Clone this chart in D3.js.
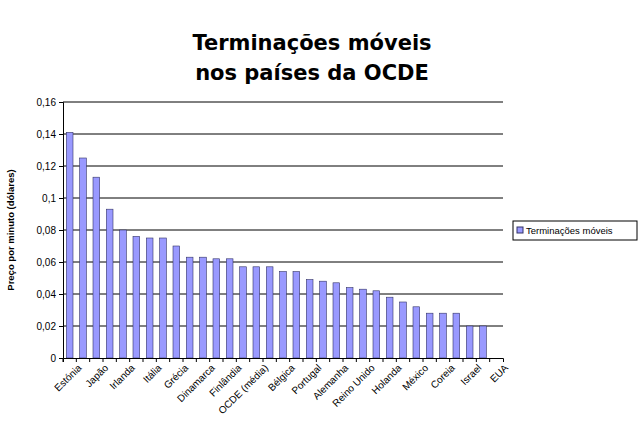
<!DOCTYPE html><html><head><meta charset="utf-8"><script src="https://cdn.jsdelivr.net/npm/d3@7"></script>
<style>body{margin:0;background:#fff}</style></head><body><svg id="c" width="640" height="426"></svg>
<script>
const categories=["Estónia","Eslováquia","Japão","Suíça","Irlanda","Hungria","Itália","Polónia","Grécia","Áustria","Dinamarca","Noruega","Finlândia","Rep. Checa","OCDE (média)","Espanha","Bélgica","Luxemburgo","Portugal","Islândia","Alemanha","França","Reino Unido","Suécia","Holanda","Turquia","México","Canadá","Coreia","Austrália","Israel","Nova Zelândia","EUA"];
const values=[0.141,0.125,0.113,0.093,0.080,0.076,0.075,0.075,0.070,0.063,0.063,0.062,0.062,0.057,0.057,0.057,0.054,0.054,0.049,0.048,0.047,0.044,0.043,0.042,0.038,0.035,0.032,0.028,0.028,0.028,0.020,0.020,0];
const yTicks=[0,0.02,0.04,0.06,0.08,0.1,0.12,0.14,0.16];
const seriesName="Terminações móveis";
const svg=d3.select("#c"),L=63,R=503,T=102,B=358;
const x=d3.scaleBand().domain(categories).range([L,R]);
const y=d3.scaleLinear().domain([0,0.16]).range([B,T]);
const fmt=d=>String(d).replace(".",",");
const F="Liberation Sans, Arial";
svg.append("text").attr("x",312).attr("y",50).attr("text-anchor","middle").attr("font-family","DejaVu Sans").attr("font-weight","bold").attr("font-size",21).text("Terminações móveis");
svg.append("text").attr("x",312).attr("y",80).attr("text-anchor","middle").attr("font-family","DejaVu Sans").attr("font-weight","bold").attr("font-size",21).text("nos países da OCDE");
svg.append("g").selectAll("line").data(yTicks.slice(1)).join("line").attr("x1",L).attr("x2",R).attr("y1",d=>y(d)).attr("y2",d=>y(d)).attr("stroke","#000").attr("stroke-width",1);
svg.append("g").selectAll("rect").data(values).join("rect").attr("x",(d,i)=>x(categories[i])+x.bandwidth()*0.25).attr("width",x.bandwidth()*0.5).attr("y",d=>y(d)).attr("height",d=>B-y(d)).attr("fill","#9999ff").attr("stroke","#333366").attr("stroke-width",0.6);
const ya=svg.append("g").attr("transform",`translate(${L},0)`).call(d3.axisLeft(y).tickValues(yTicks).tickFormat(fmt).tickSize(4));
ya.selectAll("text").attr("font-family",F).attr("font-size",10);
const xa=svg.append("g").attr("transform",`translate(0,${B})`).call(d3.axisBottom(x).tickSize(4).tickFormat((d,i)=>i%2===0?d:""));
xa.selectAll(".tick line").attr("transform",`translate(${-x.bandwidth()/2},0)`);
xa.selectAll("text").attr("font-family",F).attr("font-size",10).attr("text-anchor","end").attr("transform","translate(4,2) rotate(-45)").attr("dy","0.5em");
svg.append("text").attr("transform",`translate(14,${(T+B)/2}) rotate(-90)`).attr("text-anchor","middle").attr("font-family",F).attr("font-weight","bold").attr("font-size",9.5).text("Preço por minuto (dólares)");
const lg=svg.append("g");
lg.append("rect").attr("x",513).attr("y",221).attr("width",124).attr("height",19).attr("fill","#fff").attr("stroke","#000");
lg.append("rect").attr("x",517).attr("y",227).attr("width",6).attr("height",6).attr("fill","#9999ff").attr("stroke","#333366");
lg.append("text").attr("x",526).attr("y",234).attr("font-family",F).attr("font-size",9.5).text(seriesName);
</script></body></html>
